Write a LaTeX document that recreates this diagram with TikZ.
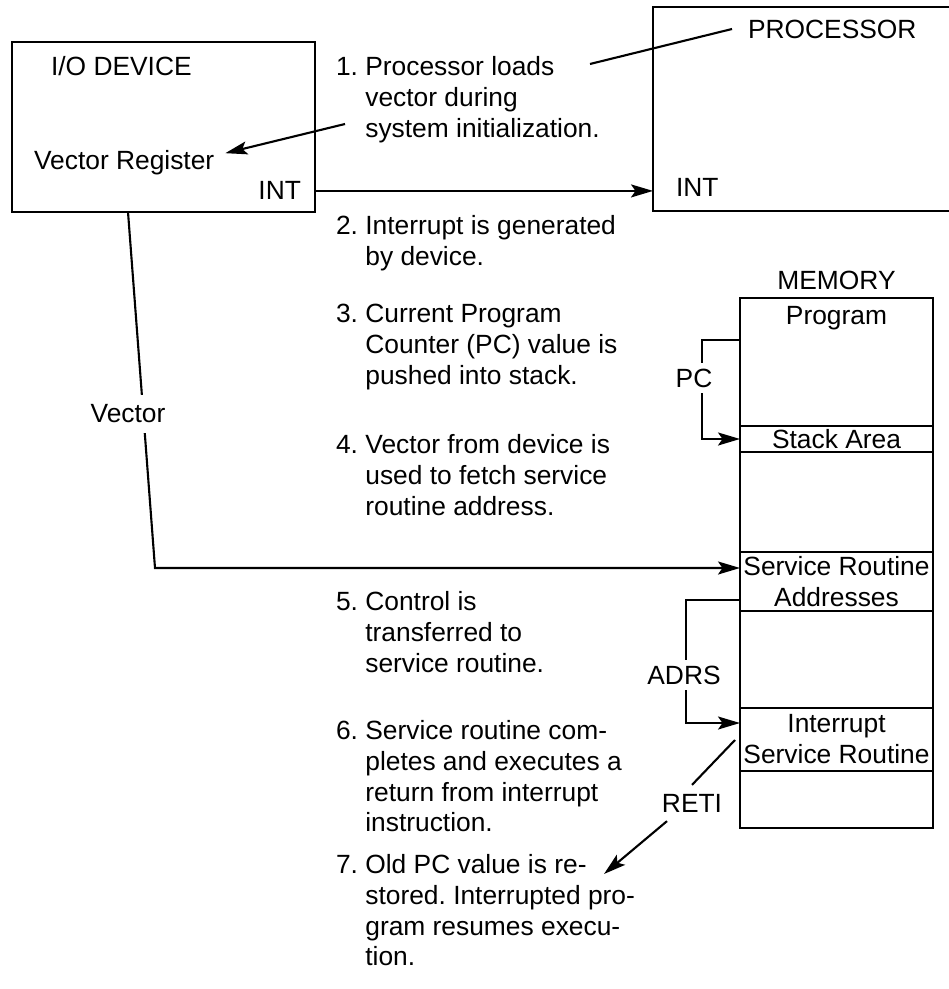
\documentclass[tikz,border=0pt]{standalone}
\usepackage{fontspec}
\setmainfont{Liberation Sans}
\usetikzlibrary{positioning,arrows.meta}
\newcommand{\indt}{\hphantom{0.\ }}
\frenchspacing
\tikzset{
  box/.style={draw, line width=1.2pt, inner sep=0pt, outer sep=0pt},
  cell/.style={draw, line width=1.2pt, minimum width=38.6mm, inner sep=0pt, outer sep=0pt, align=center},
  txt/.style={inner sep=0pt},
  note/.style={anchor=north west, align=left, inner sep=0pt},
  gap/.style={fill=white, inner xsep=1pt},
  arr/.style={-{Stealth[length=4.4mm,width=2.6mm,inset=0.9mm]}},
}
\begin{document}
\begin{tikzpicture}[x=0.2mm, y=-0.2mm, line width=1.2pt, font=\fontsize{15}{17.6}\selectfont]
  \useasboundingbox (0,0) rectangle (948,989);
  % device and processor
  \node[box, minimum width=60.6mm, minimum height=34mm] (io) at (163.5,127) {};
  \node[box, minimum width=61.4mm, minimum height=40.8mm] (proc) at (806.5,109) {};
  \node[txt, anchor=base west] (iotitle) at (50,76) {I/O DEVICE};
  \node[txt, anchor=base west] (vreg) at (33,170) {Vector Register};
  \node[txt, anchor=base east] (ioint) at (302,200) {INT};
  \node[txt, anchor=base west] (proctitle) at (747,39) {PROCESSOR};
  \node[txt, anchor=base west] (procint) at (675,197) {INT};
  % memory
  \node[cell, minimum height=25.6mm, anchor=north] (prog) at (836.5,298) {};
  \node[cell, minimum height=5.2mm, below=0pt of prog] (stack) {Stack Area};
  \node[cell, minimum height=20mm, below=0pt of stack] (free1) {};
  \node[cell, minimum height=11.8mm, below=0pt of free1] (sra) {Service Routine\\Addresses};
  \node[cell, minimum height=19.4mm, below=0pt of sra] (free2) {};
  \node[cell, minimum height=12.6mm, below=0pt of free2] (isr) {Interrupt\\Service Routine};
  \node[cell, minimum height=11.4mm, below=0pt of isr] (free3) {};
  \node[txt, above=1.4mm of prog] (memlbl) {MEMORY};
  \node[txt, below=1.4mm of prog.north] (proglbl) {Program};
  % steps
  \node[note] (item1) at (335,55) {1. Processor loads\\\indt vector during\\\indt system initialization.};
  \node[note] (item2) at (335,214) {2. Interrupt is generated\\\indt by device.};
  \node[note] (item3) at (335,303) {3. Current Program\\\indt Counter (PC) value is\\\indt pushed into stack.};
  \node[note] (item4) at (335,433) {4. Vector from device is\\\indt used to fetch service\\\indt routine address.};
  \node[note] (item5) at (335,590) {5. Control is\\\indt transferred to\\\indt service routine.};
  \node[note] (item6) at (335,719) {6. Service routine com-\\\indt pletes and executes a\\\indt return from interrupt\\\indt instruction.};
  \node[note] (item7) at (335,853) {7. Old PC value is re-\\\indt stored. Interrupted pro-\\\indt gram resumes execu-\\\indt tion.};
  % connectors
  \coordinate (procend) at (732,29);
  \coordinate (loads) at (590,64);
  \coordinate (sysinit) at (345,124);
  \coordinate (vecbend) at (155,568);
  \coordinate (pcturn) at (702,390);
  \coordinate (adrsturn) at (686,660);
  \coordinate (retisrc) at (735,740);
  \coordinate (retitip) at (604,874);
  \draw (procend) -- (loads);
  \draw[arr] (sysinit) -- ([xshift=2mm, yshift=2mm]vreg.east);
  \draw[arr] (io.east |- ioint) -- (proc.west |- ioint);
  \draw[arr] ([xshift=-7.1mm]io.south) -- (vecbend) -- (vecbend -| sra.west);
  \node[txt, gap, inner ysep=2mm] (veclbl) at (128,414) {Vector};
  \draw[arr] ([yshift=4.4mm]prog.west) -| (pcturn) |- (stack.west);
  \node[txt, gap, inner ysep=1.2mm] (pclbl) at (694,378) {PC};
  \draw[arr] ([yshift=-3.7mm]sra.west) -| (adrsturn) |- ([yshift=3.3mm]isr.west);
  \node[txt, gap, inner ysep=1.2mm] (adrslbl) at (684,675) {ADRS};
  \node[txt, inner sep=1.6mm] (reti) at (692,803) {RETI};
  \draw (retisrc) -- (reti.north);
  \draw[arr] ([xshift=-5mm]reti.south) -- (retitip);
\end{tikzpicture}
\end{document}
